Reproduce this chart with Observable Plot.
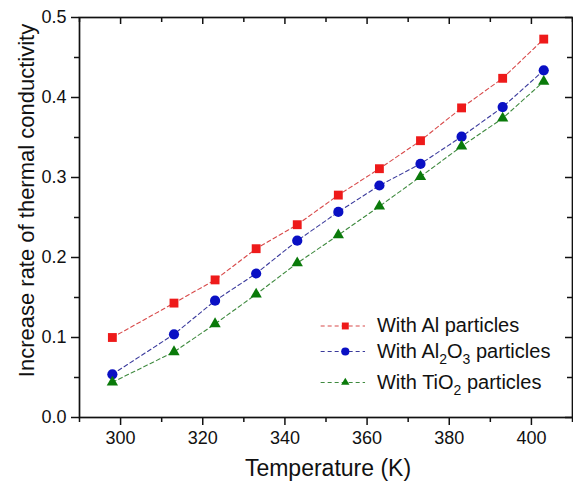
<!DOCTYPE html>
<html>
<head>
<meta charset="utf-8">
<script src="https://cdn.jsdelivr.net/npm/d3@7"></script>
<script src="https://cdn.jsdelivr.net/npm/@observablehq/plot@0.6"></script>
<style>
  html, body { margin: 0; padding: 0; background: #fff; }
  #chart svg { display: block; }
</style>
</head>
<body>
<div id="chart"></div>
<script>
// ---- data ----
const temperature = [298, 313, 323, 333, 343, 353, 363, 373, 383, 393, 403];
const alValues    = [0.100, 0.143, 0.172, 0.211, 0.241, 0.278, 0.311, 0.346, 0.387, 0.424, 0.473];
const al2o3Values = [0.054, 0.104, 0.146, 0.180, 0.221, 0.257, 0.290, 0.317, 0.351, 0.388, 0.434];
const tio2Values  = [0.044, 0.082, 0.117, 0.154, 0.193, 0.228, 0.264, 0.301, 0.339, 0.374, 0.420];
const seriesNames = ["With Al particles", "With Al2O3 particles", "With TiO2 particles"];
// label pieces: [text, isSubscript]
const seriesLabelParts = [
  [["With Al particles", false]],
  [["With Al", false], ["2", true], ["O", false], ["3", true], [" particles", false]],
  [["With TiO", false], ["2", true], [" particles", false]]
];
const xTicks = [300, 320, 340, 360, 380, 400];
const xMinorTicks = [290, 310, 330, 350, 370, 390, 410];
const yTicks = [0, 0.1, 0.2, 0.3, 0.4, 0.5];
const yMinorTicks = [0.05, 0.15, 0.25, 0.35, 0.45];
const xLabel = "Temperature (K)";
const yLabel = "Increase rate of thermal conductivity";

// ---- styles ----
const markColors = ["#ee1a1a", "#0a10c4", "#0a7a0a"];
const lineColors = ["#d84a4a", "#3a3a9c", "#3f8a3f"];
const symbols = ["square", "circle", "triangle"];
const markR = [5.0, 5.1, 4.2];
const legendR = [3.9, 4.1, 3.1];
const valuesList = [alValues, al2o3Values, tio2Values];

const W = 573, H = 483;
const mL = 79, mR = 1, mT = 17, mB = 66;
const frameW = W - mL - mR, frameH = H - mT - mB;
const FONT = "'Liberation Sans', Arial, Helvetica, sans-serif";

// legend layout (in data units)
const legendLineX1 = 348.7, legendLineX2 = 359.5, legendMarkX = 354.7, legendTextX = 362.4;
const legendRowY = [0.1144, 0.0825, 0.0438];

const marks = [];

// data lines and markers
valuesList.forEach((vals, s) => {
  const rows = temperature.map((t, i) => ({t, v: vals[i]}));
  marks.push(Plot.line(rows, {x: "t", y: "v", stroke: lineColors[s], strokeWidth: 1.1, strokeDasharray: "4,3"}));
});
valuesList.forEach((vals, s) => {
  const rows = temperature.map((t, i) => ({t, v: vals[i]}));
  marks.push(Plot.dot(rows, {x: "t", y: "v", symbol: symbols[s], r: markR[s], fill: markColors[s], stroke: "none"}));
});

// legend
seriesNames.forEach((name, s) => {
  const row = [s];
  marks.push(Plot.link(row, {x1: () => legendLineX1, x2: () => legendLineX2, y1: i => legendRowY[i], y2: i => legendRowY[i],
    stroke: lineColors[s], strokeWidth: 1.1, strokeDasharray: "4,3"}));
  marks.push(Plot.dot(row, {x: () => legendMarkX, y: i => legendRowY[i], symbol: symbols[s], r: legendR[s], fill: markColors[s], stroke: "none"}));
  marks.push(Plot.text(row, {x: () => legendTextX, y: i => legendRowY[i], text: i => seriesNames[i], textAnchor: "start",
    fontSize: 20, fill: "#111", fontFamily: FONT}));
});

// axes
marks.push(Plot.axisX({ticks: xTicks, tickSize: 8, tickPadding: 6, tickFormat: "d", label: null, strokeWidth: 1.5, fontSize: 18}));
marks.push(Plot.axisX({ticks: xMinorTicks, tickSize: 5, tickFormat: () => "", label: null, strokeWidth: 1.5}));
marks.push(Plot.axisY({ticks: yTicks, tickSize: 8, tickPadding: 5, tickFormat: d3.format(".1f"), label: null, strokeWidth: 1.5, fontSize: 18}));
marks.push(Plot.axisY({ticks: yMinorTicks, tickSize: 5, tickFormat: () => "", label: null, strokeWidth: 1.5}));
// inward ticks on top and right
marks.push(Plot.tickX(xTicks, {x: d => d, insetBottom: frameH - 7, stroke: "#111", strokeWidth: 1.5}));
marks.push(Plot.tickX(xMinorTicks, {x: d => d, insetBottom: frameH - 5, stroke: "#111", strokeWidth: 1.5}));
marks.push(Plot.tickY(yTicks, {y: d => d, insetLeft: frameW - 7, stroke: "#111", strokeWidth: 1.5}));
marks.push(Plot.tickY(yMinorTicks, {y: d => d, insetLeft: frameW - 5, stroke: "#111", strokeWidth: 1.5}));
marks.push(Plot.frame({stroke: "#111", strokeWidth: 1.7}));

// axis titles
marks.push(Plot.text([xLabel], {text: d => d, frameAnchor: "bottom", textAnchor: "middle", lineAnchor: "middle",
  dx: 2, dy: 51, fontSize: 23, fill: "#111", fontFamily: FONT}));
marks.push(Plot.text([yLabel], {text: d => d, frameAnchor: "left", textAnchor: "middle", lineAnchor: "middle", rotate: -90,
  dx: -53, dy: -17, fontSize: 22, fill: "#111", fontFamily: FONT}));

const chart = Plot.plot({
  width: W, height: H,
  marginLeft: mL, marginRight: mR, marginTop: mT, marginBottom: mB,
  x: {domain: [290, 410]},
  y: {domain: [0, 0.5]},
  style: {fontFamily: FONT, fontSize: "18px", color: "#111", background: "#fff", overflow: "visible"},
  marks
});

// subscripts in legend labels
d3.select(chart).selectAll("text").each(function () {
  const idx = seriesNames.indexOf(this.textContent);
  if (idx < 0) return;
  const parts = seriesLabelParts[idx];
  const el = d3.select(this);
  el.text(null);
  let shifted = false;
  parts.forEach(([txt, sub]) => {
    const ts = el.append("tspan").text(txt);
    if (sub && !shifted) { ts.attr("dy", 6).attr("font-size", 14); shifted = true; }
    else if (sub) { ts.attr("font-size", 14); }
    else if (!sub && shifted) { ts.attr("dy", -6); shifted = false; }
  });
});

document.getElementById("chart").appendChild(chart);
</script>
</body>
</html>
